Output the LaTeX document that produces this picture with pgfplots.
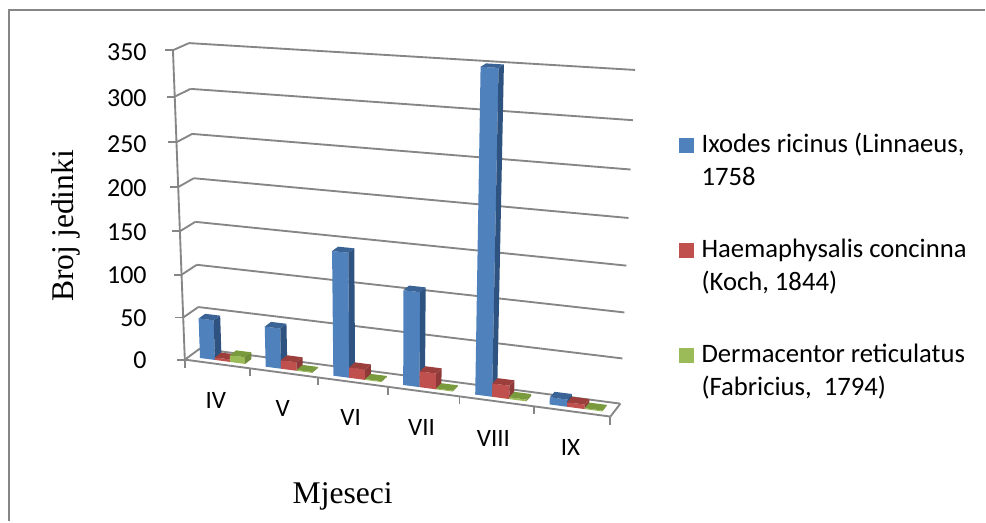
\documentclass[border=0pt]{standalone}
\usepackage{pgfplots}
\usepackage{pgfplotstable}
\pgfplotsset{compat=1.18}
\usepackage{fontspec}
\setmainfont{Carlito}
\newfontfamily\tms{Liberation Serif}
\definecolor{axgray}{HTML}{868686}
\definecolor{bF}{HTML}{4F81BD}\definecolor{bS}{HTML}{2F5380}\definecolor{bT}{HTML}{3A6496}
\definecolor{rF}{HTML}{C0504D}\definecolor{rS}{HTML}{8F3A38}\definecolor{rT}{HTML}{9C3F3C}
\definecolor{gF}{HTML}{9BBB59}\definecolor{gS}{HTML}{6F8A3A}\definecolor{gT}{HTML}{7A9A3E}
% counts per month (IV..IX)
\pgfplotstableread{
cat val
0 47
1 47
2 142
3 107
4 350
5 8
}\tabI
\pgfplotstableread{
cat val
0 3
1 10
2 12
3 18
4 15
5 5
}\tabH
\pgfplotstableread{
cat val
0 8
1 1
2 1
3 1
4 2
5 1
}\tabD
% projection of the 3-D chart box (u = month, d = depth 0..1, v = count)
\def\Ox{185}\def\Oy{360}
\def\Ax{371.01}\def\Ay{19.47}
\def\Bx{17.8}\def\By{-6.114}
\def\Cx{-21.4}\def\Cy{-312.5}
\def\ca{-0.09}\def\cb{0.014}\def\cc{-0.055}
\newcommand\Pt[5]{%
  \pgfmathsetmacro\tw{1+\ca*(#3)/6+\cb*(#4)+(#5)/350*\cc}%
  \pgfmathsetmacro#1{(\Ox+(#3)/6*\Ax+\Bx*(#4)+(#5)/350*\Cx)/\tw}%
  \pgfmathsetmacro#2{(\Oy+(#3)/6*\Ay+\By*(#4)+(#5)/350*\Cy)/\tw}}
\newcommand\Seg[6]{% line between two chart points
  \Pt\xa\ya{#1}{#2}{#3}\Pt\xb\yb{#4}{#5}{#6}%
  \addplot[axgray,line width=1.4pt,forget plot] coordinates {(\xa,\ya) (\xb,\yb)};}
\def\dA{0.28}\def\dB{0.72}\def\bw{0.23}
\newcommand\OneBar[6]{% table, month, offset, front, side, top
  \pgfplotstablegetelem{#2}{val}\of#1\let\vv\pgfplotsretval
  \pgfmathsetmacro\ua{#2+#3}\pgfmathsetmacro\ub{\ua+\bw}%
  \Pt\xa\ya{\ua}{\dA}{0}\Pt\xb\yb{\ub}{\dA}{0}\Pt\xc\yc{\ub}{\dA}{\vv}\Pt\xd\yd{\ua}{\dA}{\vv}%
  \Pt\xe\ye{\ub}{\dB}{0}\Pt\xf\yf{\ub}{\dB}{\vv}\Pt\xg\yg{\ua}{\dB}{\vv}%
  \addplot[fill=#4,draw=none,forget plot] coordinates {(\xa,\ya) (\xb,\yb) (\xc,\yc) (\xd,\yd)} --cycle;
  \addplot[fill=#5,draw=none,forget plot] coordinates {(\xb,\yb) (\xe,\ye) (\xf,\yf) (\xc,\yc)} --cycle;
  \addplot[fill=#6,draw=none,forget plot] coordinates {(\xd,\yd) (\xc,\yc) (\xf,\yf) (\xg,\yg)} --cycle;}
\begin{document}
\begin{tikzpicture}
\begin{axis}[
  x=0.75pt,y=0.75pt,scale only axis,
  xmin=0,xmax=986,ymin=0,ymax=522,y dir=reverse,
  hide axis,clip=false]
\path (axis cs:0,0) rectangle (axis cs:986,522);
% frame
\addplot[axgray,line width=1.5pt,forget plot] coordinates {(9,522) (9,10) (986,10)};
% gridlines on the two walls
\pgfplotsforeachungrouped \k in {0,50,100,150,200,250,300,350}{%
  \Seg{0}{1}{\k}{6}{1}{\k}
  \Seg{0}{0}{\k}{0}{1}{\k}
  \Pt\xa\ya{0}{0}{\k}
  \pgfmathsetmacro\xb{\xa-8}
  \addplot[axgray,line width=1.4pt,forget plot] coordinates {(\xa,\ya) (\xb,\ya)};
}
% floor and axes
\Seg{0}{0}{0}{0}{0}{350}
\Seg{0}{0}{0}{6}{0}{0}
\Seg{6}{0}{0}{6}{1}{0}
\pgfplotsforeachungrouped \k in {0,...,6}{%
  \Pt\xa\ya{\k}{0}{0}
  \pgfmathsetmacro\yb{\ya+8}
  \addplot[axgray,line width=1.4pt,forget plot] coordinates {(\xa,\ya) (\xa,\yb)};
}
% bars
\pgfplotsforeachungrouped \i in {0,...,5}{%
  \OneBar\tabI{\i}{0.17}{bF}{bS}{bT}
  \OneBar\tabH{\i}{0.40}{rF}{rS}{rT}
  \OneBar\tabD{\i}{0.63}{gF}{gS}{gT}
}
% tick labels
\def\tl#1#2{\node[anchor=east,inner sep=0pt,font=\fontsize{19.5pt}{20pt}\selectfont] at (axis cs:147,#2) {#1};}
\tl{350}{52}\tl{300}{98}\tl{250}{144}\tl{200}{188}\tl{150}{232}\tl{100}{275}\tl{50}{318}\tl{0}{361}
\def\cl#1#2#3{\node[inner sep=0pt,font=\fontsize{18.75pt}{20pt}\selectfont] at (axis cs:#2,#3) {#1};}
\cl{IV}{216}{401}\cl{V}{283}{409}\cl{VI}{351}{418}\cl{VII}{422}{428}\cl{VIII}{494}{439}\cl{IX}{571}{448}
% axis titles
\node[rotate=90,inner sep=0pt,font=\tms\fontsize{23.7pt}{25pt}\selectfont] at (axis cs:66,226) {Broj jedinki};
\node[inner sep=0pt,font=\tms\fontsize{23.7pt}{25pt}\selectfont] at (axis cs:343,497) {Mjeseci};
% legend
\fill[bF] (axis cs:680,138) rectangle (axis cs:695,153);
\fill[rF] (axis cs:680,243) rectangle (axis cs:695,258);
\fill[gF] (axis cs:680,348) rectangle (axis cs:695,363);
\def\lg#1#2{\node[anchor=base west,inner sep=0pt,font=\fontsize{20pt}{21pt}\selectfont] at (axis cs:702,#2) {#1};}
\lg{Ixodes ricinus (Linnaeus,}{153}
\lg{1758}{186}
\lg{Haemaphysalis concinna}{258}
\lg{(Koch, 1844)}{291}
\lg{Dermacentor reticulatus}{363}
\lg{(Fabricius,\ \ 1794)}{396}
\end{axis}
\end{tikzpicture}
\end{document}
